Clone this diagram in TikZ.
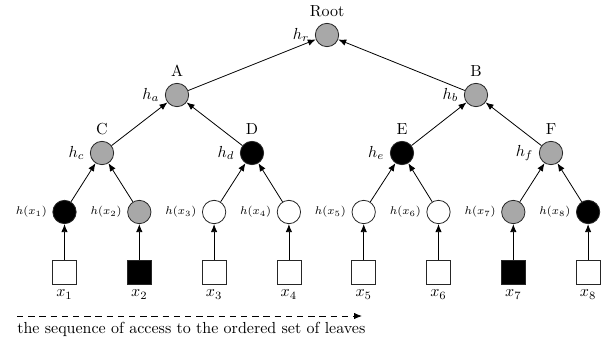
\documentclass[tikz,border=0pt]{standalone}
\usetikzlibrary{arrows.meta}
\definecolor{nodegray}{RGB}{168,168,168}
\begin{document}
\begin{tikzpicture}[x=0.625pt,y=-0.625pt,
  hnode/.style={circle,draw=black!85,line width=0.5pt,minimum size=14.6pt,inner sep=0pt},
  grayn/.style={hnode,fill=nodegray},
  blackn/.style={hnode,fill=black},
  whiten/.style={hnode,fill=white},
  leafbox/.style={rectangle,draw=black!85,line width=0.5pt,minimum size=15pt,inner sep=0pt,fill=white},
  darkbox/.style={leafbox,fill=black},
  treearrow/.style={line width=0.5pt,-{Latex[length=5pt,width=4pt]}},
  hlab/.style={label={[font=\scriptsize,label distance=0pt]left:#1}},
  toplab/.style={label={[label distance=0.5pt]above:#1}},
  hname/.style={label={[label distance=0pt]left:#1}}
]
\useasboundingbox (0,0) rectangle (609,349);

% internal nodes of the tree
\node[grayn,toplab=Root,hname=$h_r$] (r) at (327,35) {};
\node[grayn,toplab=A,hname=$h_a$] (a) at (177,95) {};
\node[grayn,toplab=B,hname=$h_b$] (b) at (476,95) {};
\node[grayn,toplab=C,hname=$h_c$] (c) at (102,153) {};
\node[blackn,toplab=D,hname=$h_d$] (d) at (252,153) {};
\node[blackn,toplab=E,hname=$h_e$] (e) at (402,153) {};
\node[grayn,toplab=F,hname=$h_f$] (f) at (551,153) {};

% leaf hashes
\node[blackn,hlab=$h(x_1)$] (l1) at (64.5,212) {};
\node[grayn, hlab=$h(x_2)$] (l2) at (139.3,212) {};
\node[whiten,hlab=$h(x_3)$] (l3) at (214.1,212) {};
\node[whiten,hlab=$h(x_4)$] (l4) at (288.9,212) {};
\node[whiten,hlab=$h(x_5)$] (l5) at (363.7,212) {};
\node[whiten,hlab=$h(x_6)$] (l6) at (438.5,212) {};
\node[grayn, hlab=$h(x_7)$] (l7) at (513.3,212) {};
\node[blackn,hlab=$h(x_8)$] (l8) at (588.1,212) {};

% data blocks
\node[leafbox,label=below:$x_1$] (s1) at (64.5,272) {};
\node[darkbox,label=below:$x_2$] (s2) at (139.3,272) {};
\node[leafbox,label=below:$x_3$] (s3) at (214.1,272) {};
\node[leafbox,label=below:$x_4$] (s4) at (288.9,272) {};
\node[leafbox,label=below:$x_5$] (s5) at (363.7,272) {};
\node[leafbox,label=below:$x_6$] (s6) at (438.5,272) {};
\node[darkbox,label=below:$x_7$] (s7) at (513.3,272) {};
\node[leafbox,label=below:$x_8$] (s8) at (588.1,272) {};

% hashing edges
\foreach \i in {1,...,8} \draw[treearrow] (s\i) -- (l\i);
\draw[treearrow] (l1) -- (c);
\draw[treearrow] (l2) -- (c);
\draw[treearrow] (l3) -- (d);
\draw[treearrow] (l4) -- (d);
\draw[treearrow] (l5) -- (e);
\draw[treearrow] (l6) -- (e);
\draw[treearrow] (l7) -- (f);
\draw[treearrow] (l8) -- (f);
\draw[treearrow] (c) -- (a);
\draw[treearrow] (d) -- (a);
\draw[treearrow] (e) -- (b);
\draw[treearrow] (f) -- (b);
\draw[treearrow] (a) -- (r);
\draw[treearrow] (b) -- (r);

% access order
\coordinate (seqstart) at (17,316);
\coordinate (seqend) at (362,316);
\draw[line width=0.5pt,dash pattern=on 4pt off 3pt,-{Latex[length=5pt,width=4pt]}] (seqstart) -- (seqend);
\node[anchor=base west,inner sep=0pt] (caption) at (17,333) {the sequence of access to the ordered set of leaves};
\end{tikzpicture}
\end{document}
